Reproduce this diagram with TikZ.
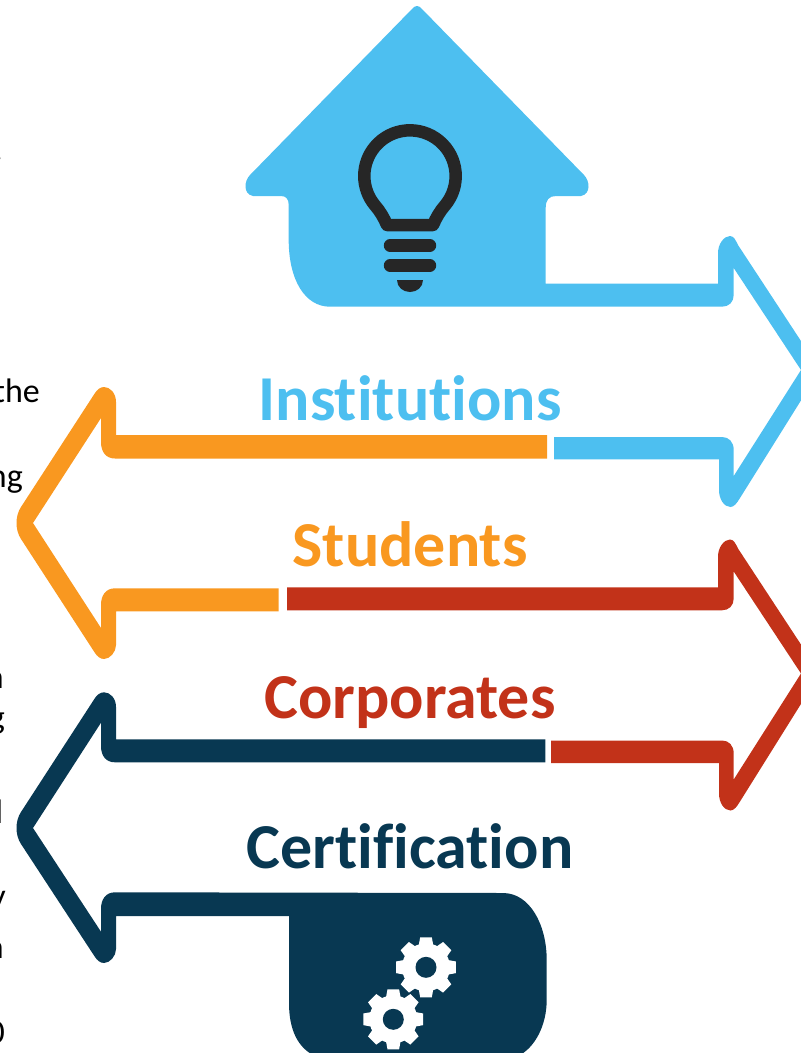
\documentclass[tikz,border=0pt]{standalone}
\usepackage{fontspec}
\setmainfont{Carlito}[Ligatures=NoCommon]
\definecolor{skyblue}{HTML}{4DBFF0}
\definecolor{amber}{HTML}{F99820}
\definecolor{brick}{HTML}{C23219}
\definecolor{navy}{HTML}{083852}
\definecolor{bulbgrey}{HTML}{262626}
\newcommand{\cog}[2]{
\fill [white] (#1,#2) circle (24);
\foreach \a in {0,45,...,315}
  \fill [white,shift={(#1,#2)},rotate=\a] (20:22) -- (11:30.5) -- (-11:30.5) -- (-20:22) -- cycle;
\fill [navy] (#1,#2) circle (10.5);
}
\begin{document}
\begin{tikzpicture}[x=1pt,y=-1pt]
\tikzstyle{banner} = [font=\fontsize{64}{68}\selectfont\bfseries,anchor=base,inner sep=0];
\tikzstyle{stray} = [font=\fontsize{34}{38}\selectfont,anchor=base east,inner sep=0,text=black];

\clip (0,0) rectangle (801,1053);

% house and first arrow
\fill [skyblue] (412,9) .. controls (414,7) and (415,6) .. (417,6) .. controls (419,6) and (420,7) .. (422,9)
  -- (584,175) .. controls (590,181) and (591,194) .. (581,196) -- (556,196)
  .. controls (549,196) and (545.7,200) .. (545.7,208) -- (545.7,283.5) -- (718,283.5) -- (718,253)
  .. controls (718,244) and (724,236) .. (730,236) .. controls (734,236) and (736,241) .. (738,245)
  -- (820,370) -- (740,498) .. controls (737,503) and (734,507) .. (730.5,507) .. controls (724,507) and (719,499) .. (719,490)
  -- (719,459.3) -- (554,459.3) -- (554,437) -- (722,437) .. controls (729,437) and (733.7,442) .. (733.7,450)
  -- (733.7,476) -- (801,370) -- (733.7,268) -- (733.7,295) .. controls (733.7,302) and (729,306.7) .. (722,306.7)
  -- (330,306.7) .. controls (305,306.7) and (288.7,280) .. (288.7,240) -- (288.7,205)
  .. controls (288.7,199) and (286,196) .. (281,196) -- (253,196) .. controls (243,194) and (244,181) .. (250,175) -- cycle;

% second arrow
\fill [amber] (547,435) -- (116,435) -- (116,402) .. controls (116,393) and (110,387) .. (104,387)
  .. controls (100,387) and (97,390) .. (95,393) -- (21,507) .. controls (15,516) and (15,530) .. (21,539)
  -- (95,653) .. controls (97,656) and (100,659) .. (104,659) .. controls (110,659) and (116,652) .. (116,645)
  -- (116,611.3) -- (278.7,611.3) -- (278.7,588.3) -- (115,588.3) .. controls (106,588.3) and (101,595) .. (101,605)
  -- (101,628) -- (33,523) -- (101,418) -- (101,442) .. controls (101,452) and (106,458.5) .. (115,458.5)
  -- (547,458.5) -- cycle;

% third arrow
\fill [brick] (287,587.3) -- (718,587.3) -- (718,556.5) .. controls (718,547.5) and (724,539.5) .. (730,539.5)
  .. controls (734,539.5) and (736,544.5) .. (738,548.5) -- (820,673.5) -- (740,801.5)
  .. controls (737,806.5) and (734,810.5) .. (730.5,810.5) .. controls (724,810.5) and (719,802.5) .. (719,793.5)
  -- (719,763) -- (551,763) -- (551,740.5) -- (722,740.5) .. controls (729,740.5) and (733.7,745.5) .. (733.7,753.5)
  -- (733.7,779.5) -- (801,673.5) -- (733.7,571.5) -- (733.7,598.5) .. controls (733.7,605.5) and (729,610.3) .. (722,610.3)
  -- (287,610.3) -- cycle;

% fourth arrow and box
\fill [navy] (545.3,739.3) -- (116,739.3) -- (116,707) .. controls (116,698) and (110,692.3) .. (104,692.3)
  .. controls (100,692.3) and (97,695) .. (95,698) -- (21,812) .. controls (15,821) and (15,835) .. (21,844)
  -- (95,957) .. controls (97,960) and (100,963) .. (104,963) .. controls (110,963) and (116,956) .. (116,949)
  -- (116,916) -- (289,916) -- (289,1003) .. controls (289,1030) and (298,1048) .. (315,1056) -- (518,1056)
  .. controls (535,1048) and (546.7,1025) .. (546.7,1000) -- (546.7,960) .. controls (546.7,925) and (530,893) .. (503,893)
  -- (115,892.3) .. controls (106,892.3) and (101,899) .. (101,909) -- (101,931.7) -- (33,828) -- (101,722.7)
  -- (101,746) .. controls (101,756) and (106,762.3) .. (115,762.3) -- (545.3,762.3) -- cycle;

% bulb
\draw [bulbgrey,line width=12.5,line join=round] (387,225) -- (433,225) .. controls (436,218) and (440,211) .. (445,205.4)
  arc [start angle=40,end angle=-220,radius=45.7] .. controls (380,211) and (384,218) .. (387,225) -- cycle;
\draw [bulbgrey,line width=12.4,line cap=round] (390,245.5) -- (430,245.5);
\draw [bulbgrey,line width=12.4,line cap=round] (390,265.5) -- (430,265.5);
\fill [bulbgrey] (397,280) -- (423,280) .. controls (423,287) and (417,292) .. (410,292) .. controls (403,292) and (397,287) .. (397,280) -- cycle;

\cog{426}{967.3}
\cog{393.3}{1019.3}

\node [banner,text=skyblue] (institutions) at (410,420) {Institutions};
\node [banner,text=amber] (students) at (410,566) {Students};
\node [banner,text=brick] (corporates) at (410,718) {Corporates};
\node [banner,text=navy] (certification) at (410,868) {Certification};

\node [stray] (s1) at (3,160) {.};
\node [stray] (s2) at (40,402) {the};
\node [stray] (s3) at (23,487) {ng};
\node [stray] (s4) at (4,688) {n};
\node [stray] (s5) at (5,728) {g};
\node [stray] (s6) at (3.5,823) {l};
\node [stray] (s7) at (6,907) {y};
\node [stray] (s8) at (4,958) {n};
\node [stray] (s9) at (5,1043) {0};
\end{tikzpicture}
\end{document}
